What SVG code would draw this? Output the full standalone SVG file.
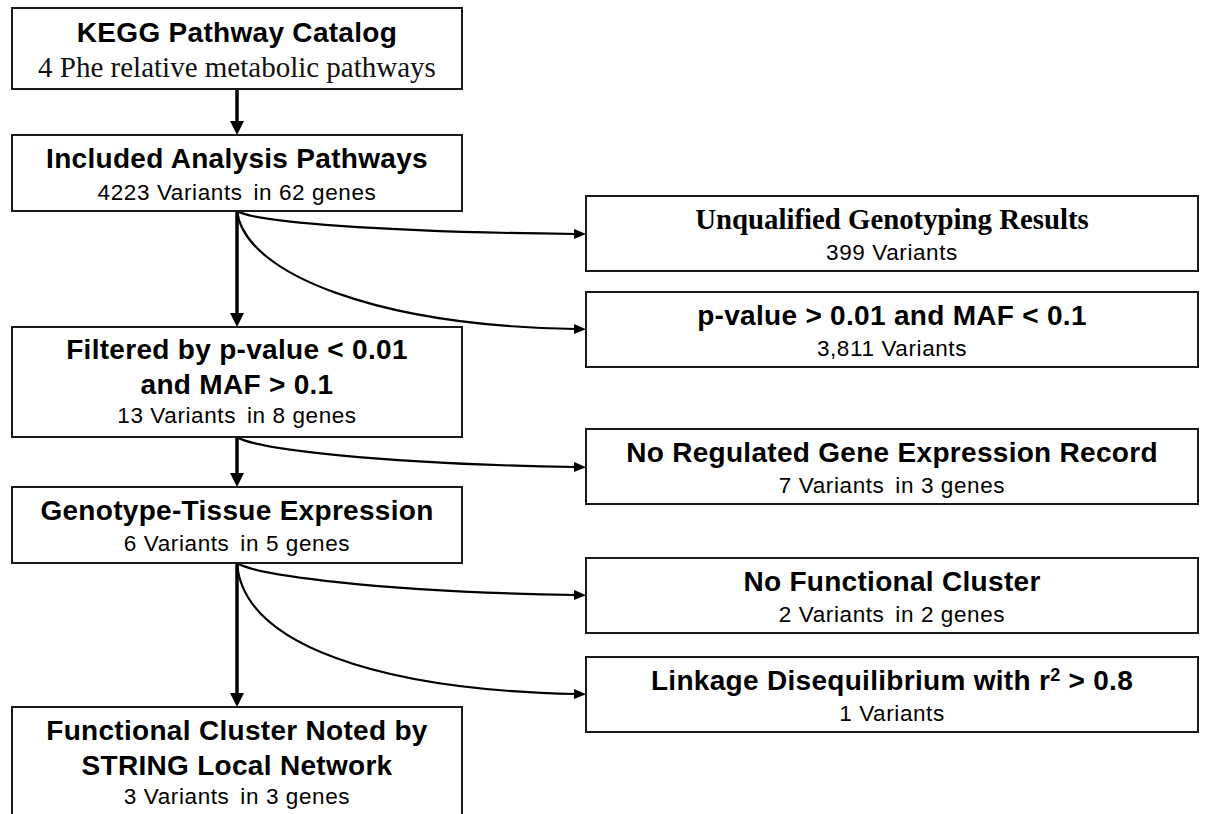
<svg xmlns="http://www.w3.org/2000/svg" width="1211" height="814" viewBox="0 0 1211 814">
<style>
.box{fill:#fff;stroke:#1a1a1a;stroke-width:2}
.t{font-family:"Liberation Sans",Arial,sans-serif;font-weight:bold;font-size:28px;letter-spacing:0.3px;fill:#000;text-anchor:middle}
.ts{font-family:"Liberation Serif","Times New Roman",serif;font-weight:bold;font-size:28.8px;fill:#000;text-anchor:middle}
.s{font-family:"Liberation Sans",Arial,sans-serif;font-size:22.5px;letter-spacing:0.6px;fill:#000;text-anchor:middle}
.ss{font-family:"Liberation Serif","Times New Roman",serif;font-size:29px;fill:#111;text-anchor:middle}
.v{fill:none;stroke:#000;stroke-width:3.5}
.c{fill:none;stroke:#000;stroke-width:2.2}
</style>
<defs>
<marker id="ahv" markerUnits="userSpaceOnUse" viewBox="0 0 14 14" refX="2" refY="7" markerWidth="14" markerHeight="14" orient="auto">
<path d="M0,0 L14,7 L0,14 z" fill="#000"/>
</marker>
<marker id="ahc" markerUnits="userSpaceOnUse" viewBox="0 0 12 10" refX="2" refY="5" markerWidth="12" markerHeight="10" orient="auto">
<path d="M0,0 L12,5 L0,10 z" fill="#000"/>
</marker>
</defs>
<g id="connectors">
<path class="v" d="M237,89 L237,123" marker-end="url(#ahv)"/>
<path class="v" d="M237,211 L237,315" marker-end="url(#ahv)"/>
<path class="v" d="M237,437 L237,475" marker-end="url(#ahv)"/>
<path class="v" d="M237,563 L237,695" marker-end="url(#ahv)"/>
<path class="c" d="M237,211 C255,222 380,232 576,234" marker-end="url(#ahc)"/>
<path class="c" d="M237,211 C245,275 380,326 576,329" marker-end="url(#ahc)"/>
<path class="c" d="M237,437 C255,449 380,464 576,467" marker-end="url(#ahc)"/>
<path class="c" d="M237,563 C255,575 380,592 576,595" marker-end="url(#ahc)"/>
<path class="c" d="M237,563 C243,645 380,690 576,694" marker-end="url(#ahc)"/>
</g>
<g id="kegg">
<rect class="box" x="12" y="8" width="450" height="81"/>
<text class="t" x="237" y="42">KEGG Pathway Catalog</text>
<text class="ss" x="237" y="77">4 Phe relative metabolic pathways</text>
</g>
<g id="included">
<rect class="box" x="12" y="135" width="450" height="76"/>
<text class="t" x="237" y="168">Included Analysis Pathways</text>
<text class="s" x="237" y="200">4223 Variants <tspan dx="4">in 62 genes</tspan></text>
</g>
<g id="filtered">
<rect class="box" x="12" y="327" width="450" height="110"/>
<text class="t" x="237" y="359">Filtered by p-value &lt; 0.01</text>
<text class="t" x="237" y="394">and MAF &gt; 0.1</text>
<text class="s" x="237" y="423">13 Variants <tspan dx="4">in 8 genes</tspan></text>
</g>
<g id="gtex">
<rect class="box" x="12" y="487" width="450" height="76"/>
<text class="t" x="237" y="520">Genotype-Tissue Expression</text>
<text class="s" x="237" y="551">6 Variants <tspan dx="4">in 5 genes</tspan></text>
</g>
<g id="functional">
<rect class="box" x="12" y="707" width="450" height="130"/>
<text class="t" x="237" y="740">Functional Cluster Noted by</text>
<text class="t" x="237" y="775">STRING Local Network</text>
<text class="s" x="237" y="804">3 Variants <tspan dx="4">in 3 genes</tspan></text>
</g>
<g id="unqualified">
<rect class="box" x="586" y="196" width="612" height="75"/>
<text class="ts" x="892" y="229">Unqualified Genotyping Results</text>
<text class="s" x="892" y="260">399 Variants</text>
</g>
<g id="pvalue">
<rect class="box" x="586" y="292" width="612" height="75"/>
<text class="t" x="892" y="325">p-value &gt; 0.01 and MAF &lt; 0.1</text>
<text class="s" x="892" y="356">3,811 Variants</text>
</g>
<g id="noregulated">
<rect class="box" x="586" y="429" width="612" height="75"/>
<text class="t" x="892" y="462">No Regulated Gene Expression Record</text>
<text class="s" x="892" y="493">7 Variants <tspan dx="4">in 3 genes</tspan></text>
</g>
<g id="nofunctional">
<rect class="box" x="586" y="558" width="612" height="75"/>
<text class="t" x="892" y="591">No Functional Cluster</text>
<text class="s" x="892" y="622">2 Variants <tspan dx="4">in 2 genes</tspan></text>
</g>
<g id="linkage">
<rect class="box" x="586" y="657" width="612" height="75"/>
<text class="t" x="892" y="690">Linkage Disequilibrium with r<tspan font-size="18" dy="-9">2</tspan><tspan dy="9"> &gt; 0.8</tspan></text>
<text class="s" x="892" y="721">1 Variants</text>
</g>
</svg>
